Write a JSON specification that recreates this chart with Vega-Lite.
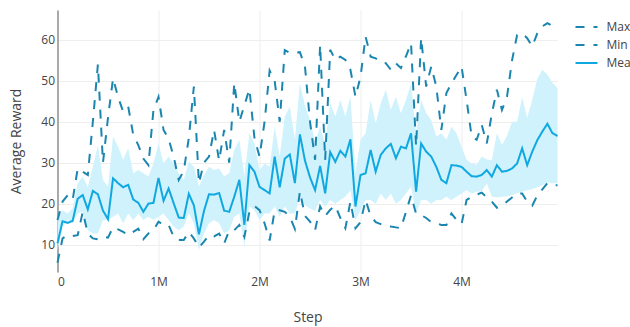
{
  "$schema": "https://vega.github.io/schema/vega-lite/v6.json",
  "width": 500,
  "height": 262,
  "autosize": "none",
  "padding": {"left": 57.5, "top": 10, "right": 72.5, "bottom": 55},
  "config": {
    "font": "Open Sans",
    "view": {"stroke": null},
    "axis": {"labelFont": "Open Sans", "labelFontSize": 12, "labelColor": "#444", "titleFont": "Open Sans", "titleColor": "#444", "titleFontSize": 14, "titleFontWeight": "normal", "gridColor": "#eeeeee", "gridWidth": 1, "ticks": false, "domain": false},
    "legend": {"labelFont": "Open Sans", "labelFontSize": 12, "labelColor": "#444"}
  },
  "data": {"values": [
    {"step": 0, "Max": 16, "Min": 5.6, "Mean": 10.3, "lo": 8.5, "hi": 16.8},
    {"step": 50000, "Max": 20.5, "Min": 11.5, "Mean": 15.7, "lo": 14.4, "hi": 18.4},
    {"step": 100000, "Max": 22.0, "Min": 12.3, "Mean": 15.3, "lo": 16, "hi": 17.6},
    {"step": 150000, "Max": 20.9, "Min": 12.1, "Mean": 15.8, "lo": 15.2, "hi": 18.8},
    {"step": 200000, "Max": 28.6, "Min": 12.3, "Mean": 21.2, "lo": 17.6, "hi": 25},
    {"step": 250000, "Max": 27.8, "Min": 18, "Mean": 22.1, "lo": 18, "hi": 26.6},
    {"step": 300000, "Max": 27.0, "Min": 12.7, "Mean": 18.6, "lo": 13.5, "hi": 24},
    {"step": 350000, "Max": 40, "Min": 11.5, "Mean": 23.1, "lo": 12.7, "hi": 29},
    {"step": 400000, "Max": 54, "Min": 11.3, "Mean": 22.3, "lo": 12.7, "hi": 34.3},
    {"step": 450000, "Max": 30, "Min": 11.9, "Mean": 18.3, "lo": 16, "hi": 25.8},
    {"step": 500000, "Max": 41, "Min": 11.7, "Mean": 16.2, "lo": 16, "hi": 24.1},
    {"step": 550000, "Max": 50.6, "Min": 14.2, "Mean": 26.2, "lo": 16.8, "hi": 36.4},
    {"step": 600000, "Max": 46, "Min": 13.7, "Mean": 25.0, "lo": 17.6, "hi": 33.9},
    {"step": 650000, "Max": 42.5, "Min": 13.1, "Mean": 24.0, "lo": 15.2, "hi": 30.7},
    {"step": 700000, "Max": 43.7, "Min": 12.3, "Mean": 24.6, "lo": 17.6, "hi": 33.5},
    {"step": 750000, "Max": 36.8, "Min": 13.1, "Mean": 21.0, "lo": 16, "hi": 27.4},
    {"step": 800000, "Max": 34.3, "Min": 13.9, "Mean": 20.2, "lo": 17.6, "hi": 28.2},
    {"step": 850000, "Max": 31, "Min": 11.3, "Mean": 18.0, "lo": 16, "hi": 27.4},
    {"step": 900000, "Max": 29.4, "Min": 12.7, "Mean": 20.0, "lo": 16.8, "hi": 26.6},
    {"step": 950000, "Max": 42.9, "Min": 13.5, "Mean": 20.2, "lo": 16, "hi": 29.8},
    {"step": 1000000, "Max": 46.1, "Min": 15.6, "Mean": 26.3, "lo": 16.8, "hi": 34.7},
    {"step": 1050000, "Max": 38, "Min": 14.8, "Mean": 20.7, "lo": 17.6, "hi": 29.8},
    {"step": 1100000, "Max": 35.8, "Min": 14.8, "Mean": 23.7, "lo": 16, "hi": 31.5},
    {"step": 1150000, "Max": 31.5, "Min": 11.9, "Mean": 20.1, "lo": 14.4, "hi": 29.8},
    {"step": 1200000, "Max": 25.8, "Min": 11.1, "Mean": 16.6, "lo": 13.5, "hi": 27.4},
    {"step": 1250000, "Max": 28, "Min": 11.1, "Mean": 16.5, "lo": 14.4, "hi": 25.8},
    {"step": 1300000, "Max": 36, "Min": 13.1, "Mean": 22.4, "lo": 17.6, "hi": 30.3},
    {"step": 1350000, "Max": 48.6, "Min": 11.5, "Mean": 19.6, "lo": 15.2, "hi": 29},
    {"step": 1400000, "Max": 25, "Min": 9.3, "Mean": 12.5, "lo": 8.7, "hi": 24.1},
    {"step": 1450000, "Max": 30, "Min": 10.7, "Mean": 18.2, "lo": 12.7, "hi": 27},
    {"step": 1500000, "Max": 31.5, "Min": 12.3, "Mean": 22.3, "lo": 15.2, "hi": 29},
    {"step": 1550000, "Max": 38, "Min": 12.0, "Mean": 22.2, "lo": 16, "hi": 28.2},
    {"step": 1600000, "Max": 30.5, "Min": 12.7, "Mean": 22.6, "lo": 15.2, "hi": 28.6},
    {"step": 1650000, "Max": 38, "Min": 10.3, "Mean": 18.3, "lo": 12.7, "hi": 26.6},
    {"step": 1700000, "Max": 30, "Min": 13.4, "Mean": 18.0, "lo": 13.5, "hi": 27.4},
    {"step": 1750000, "Max": 49.5, "Min": 13.5, "Mean": 21.7, "lo": 16.8, "hi": 33.1},
    {"step": 1800000, "Max": 40, "Min": 14.8, "Mean": 25.8, "lo": 17.6, "hi": 35.6},
    {"step": 1850000, "Max": 44, "Min": 11.9, "Mean": 14.8, "lo": 9.5, "hi": 26.6},
    {"step": 1900000, "Max": 48, "Min": 18.0, "Mean": 29.4, "lo": 19.3, "hi": 37.2},
    {"step": 1950000, "Max": 36, "Min": 19.4, "Mean": 27.8, "lo": 18.4, "hi": 34.7},
    {"step": 2000000, "Max": 31.5, "Min": 18.4, "Mean": 24.1, "lo": 16, "hi": 28.2},
    {"step": 2050000, "Max": 40, "Min": 15.2, "Mean": 23.3, "lo": 17.6, "hi": 29.8},
    {"step": 2100000, "Max": 52.5, "Min": 11.0, "Mean": 22.5, "lo": 17.6, "hi": 29},
    {"step": 2150000, "Max": 50, "Min": 18.3, "Mean": 31.5, "lo": 19.3, "hi": 38.8},
    {"step": 2200000, "Max": 40, "Min": 18.4, "Mean": 24.0, "lo": 16.8, "hi": 31.5},
    {"step": 2250000, "Max": 57.5, "Min": 18, "Mean": 31.0, "lo": 19.3, "hi": 41.3},
    {"step": 2300000, "Max": 56.8, "Min": 16.8, "Mean": 32.0, "lo": 17.6, "hi": 43.7},
    {"step": 2350000, "Max": 56.8, "Min": 13.8, "Mean": 25.0, "lo": 17.6, "hi": 35.6},
    {"step": 2400000, "Max": 57, "Min": 23, "Mean": 36.9, "lo": 21.5, "hi": 49.4},
    {"step": 2450000, "Max": 53.5, "Min": 17, "Mean": 30.5, "lo": 19.6, "hi": 44},
    {"step": 2500000, "Max": 40, "Min": 15.6, "Mean": 26.4, "lo": 18.8, "hi": 40.5},
    {"step": 2550000, "Max": 30.7, "Min": 13.5, "Mean": 23.3, "lo": 18.2, "hi": 35},
    {"step": 2600000, "Max": 58.8, "Min": 19.3, "Mean": 29.2, "lo": 20.9, "hi": 38.8},
    {"step": 2650000, "Max": 30.7, "Min": 17, "Mean": 22.5, "lo": 19.3, "hi": 34.7},
    {"step": 2700000, "Max": 57.6, "Min": 18.5, "Mean": 32.6, "lo": 20.9, "hi": 44.5},
    {"step": 2750000, "Max": 55.1, "Min": 19.5, "Mean": 30.2, "lo": 20, "hi": 41.3},
    {"step": 2800000, "Max": 55.9, "Min": 16.5, "Mean": 32.9, "lo": 20.9, "hi": 45.3},
    {"step": 2850000, "Max": 55.1, "Min": 14, "Mean": 31.5, "lo": 21.7, "hi": 41.3},
    {"step": 2900000, "Max": 52.7, "Min": 20.5, "Mean": 35.7, "lo": 23.3, "hi": 46.1},
    {"step": 2950000, "Max": 46.1, "Min": 14, "Mean": 19.3, "lo": 16, "hi": 27.4},
    {"step": 3000000, "Max": 51, "Min": 15.5, "Mean": 27.0, "lo": 18.4, "hi": 35.6},
    {"step": 3050000, "Max": 60.8, "Min": 20.9, "Mean": 27.4, "lo": 20.9, "hi": 37.2},
    {"step": 3100000, "Max": 55.9, "Min": 17, "Mean": 33.1, "lo": 20.9, "hi": 45.3},
    {"step": 3150000, "Max": 55.5, "Min": 15.5, "Mean": 27.8, "lo": 20, "hi": 39.6},
    {"step": 3200000, "Max": 54.5, "Min": 15, "Mean": 31.9, "lo": 22.5, "hi": 44.5},
    {"step": 3250000, "Max": 54.3, "Min": 14.8, "Mean": 33.5, "lo": 20.9, "hi": 47.8},
    {"step": 3300000, "Max": 52.7, "Min": 14.4, "Mean": 34.6, "lo": 22.5, "hi": 42.9},
    {"step": 3350000, "Max": 54.3, "Min": 14.2, "Mean": 31.1, "lo": 20, "hi": 46.1},
    {"step": 3400000, "Max": 53.1, "Min": 14.0, "Mean": 33.9, "lo": 20.9, "hi": 42.1},
    {"step": 3450000, "Max": 56, "Min": 18, "Mean": 33.5, "lo": 22.5, "hi": 45.3},
    {"step": 3500000, "Max": 59.2, "Min": 22, "Mean": 37.2, "lo": 24.1, "hi": 49.4},
    {"step": 3550000, "Max": 34, "Min": 17.5, "Mean": 22.9, "lo": 17.6, "hi": 37.2},
    {"step": 3600000, "Max": 60.5, "Min": 17.2, "Mean": 34.7, "lo": 20.9, "hi": 45.3},
    {"step": 3650000, "Max": 48.6, "Min": 16.5, "Mean": 32.7, "lo": 20.9, "hi": 42.1},
    {"step": 3700000, "Max": 53.5, "Min": 15.5, "Mean": 31.5, "lo": 20, "hi": 40.4},
    {"step": 3750000, "Max": 48.6, "Min": 15.2, "Mean": 29.0, "lo": 20.9, "hi": 36.4},
    {"step": 3800000, "Max": 38, "Min": 14.8, "Mean": 25.8, "lo": 20.9, "hi": 37.2},
    {"step": 3850000, "Max": 47, "Min": 14.8, "Mean": 25.0, "lo": 21.7, "hi": 35.6},
    {"step": 3900000, "Max": 49.4, "Min": 17.6, "Mean": 29.4, "lo": 20.9, "hi": 38.8},
    {"step": 3950000, "Max": 51.4, "Min": 16, "Mean": 29.3, "lo": 21.7, "hi": 37.2},
    {"step": 4000000, "Max": 53.5, "Min": 15, "Mean": 29.0, "lo": 22.5, "hi": 33.9},
    {"step": 4050000, "Max": 45.3, "Min": 20.9, "Mean": 27.8, "lo": 23.3, "hi": 30.7},
    {"step": 4100000, "Max": 36.4, "Min": 21.7, "Mean": 26.7, "lo": 22.5, "hi": 29.8},
    {"step": 4150000, "Max": 35.6, "Min": 22.2, "Mean": 26.6, "lo": 22.9, "hi": 29.5},
    {"step": 4200000, "Max": 39.2, "Min": 22.7, "Mean": 27.0, "lo": 23, "hi": 31.5},
    {"step": 4250000, "Max": 34.7, "Min": 21.5, "Mean": 28.2, "lo": 25, "hi": 30.8},
    {"step": 4300000, "Max": 42, "Min": 20.5, "Mean": 26.6, "lo": 21.7, "hi": 30.6},
    {"step": 4350000, "Max": 47.8, "Min": 19, "Mean": 29.4, "lo": 21.5, "hi": 37.2},
    {"step": 4400000, "Max": 42.9, "Min": 19.5, "Mean": 27.8, "lo": 21.7, "hi": 34.3},
    {"step": 4450000, "Max": 46.1, "Min": 20.5, "Mean": 28.0, "lo": 21.8, "hi": 36.5},
    {"step": 4500000, "Max": 55, "Min": 21.5, "Mean": 28.6, "lo": 22.1, "hi": 40},
    {"step": 4550000, "Max": 61.2, "Min": 22.5, "Mean": 29.8, "lo": 22.6, "hi": 40},
    {"step": 4600000, "Max": 61.6, "Min": 22.5, "Mean": 33.5, "lo": 22.9, "hi": 46},
    {"step": 4650000, "Max": 60.4, "Min": 20.5, "Mean": 29.4, "lo": 23.3, "hi": 41},
    {"step": 4700000, "Max": 58.4, "Min": 19.5, "Mean": 32.7, "lo": 23.5, "hi": 45.3},
    {"step": 4750000, "Max": 61.6, "Min": 22, "Mean": 35.5, "lo": 24, "hi": 50.5},
    {"step": 4800000, "Max": 63.3, "Min": 23.5, "Mean": 37.6, "lo": 24.5, "hi": 52.7},
    {"step": 4850000, "Max": 64.1, "Min": 25, "Mean": 39.5, "lo": 25.2, "hi": 51.5},
    {"step": 4900000, "Max": 63.4, "Min": 24.5, "Mean": 37.2, "lo": 25, "hi": 49.5},
    {"step": 4950000, "Max": 63.3, "Min": 24.5, "Mean": 36.5, "lo": 25, "hi": 48.2}
  ]},
  "layer": [
    {
      "mark": {"type": "area", "color": "#cff2fc", "opacity": 1, "interpolate": "linear"},
      "encoding": {
        "x": {"field": "step", "type": "quantitative", "scale": {"domain": [0, 4950000], "nice": false, "zero": false}, "axis": {"values": [0, 1000000, 2000000, 3000000, 4000000], "labelExpr": "datum.value === 0 ? '0' : (datum.value / 1000000) + 'M'", "labelPadding": 4, "title": "Step", "titlePadding": 23, "grid": true}},
        "y": {"field": "lo", "type": "quantitative", "scale": {"domain": [3.3, 67.3], "nice": false, "zero": false}, "axis": {"values": [10, 20, 30, 40, 50, 60], "title": "Average Reward", "labelPadding": 3, "titlePadding": 17, "domain": true, "domainColor": "#aaaaaa", "domainWidth": 2, "grid": true}},
        "y2": {"field": "hi"}
      }
    },
    {
      "transform": [{"fold": ["Max", "Min", "Mean"], "as": ["series", "value"]}],
      "mark": {"type": "line", "strokeWidth": 2, "interpolate": "linear"},
      "encoding": {
        "x": {"field": "step", "type": "quantitative"},
        "y": {"field": "value", "type": "quantitative"},
        "color": {"field": "series", "type": "nominal", "scale": {"domain": ["Max", "Min", "Mean"], "range": ["#1a86b0", "#1a86b0", "#10a8e0"]}, "legend": {"title": null, "orient": "none", "legendX": 517, "legendY": 5, "symbolType": "stroke", "symbolSize": 484, "symbolStrokeWidth": 2, "rowPadding": 0, "labelOffset": 8, "labelFontSize": 12, "labelLimit": 200, "labelBaseline": "middle"}},
        "strokeDash": {"field": "series", "type": "nominal", "scale": {"domain": ["Max", "Min", "Mean"], "range": [[9, 9], [9, 9], [1, 0]]}, "legend": {"title": null, "orient": "none", "legendX": 517, "legendY": 5, "symbolType": "stroke", "symbolSize": 484, "symbolStrokeWidth": 2, "rowPadding": 0, "labelOffset": 8, "labelFontSize": 12, "labelLimit": 200, "labelBaseline": "middle"}}
      }
    }
  ]
}
